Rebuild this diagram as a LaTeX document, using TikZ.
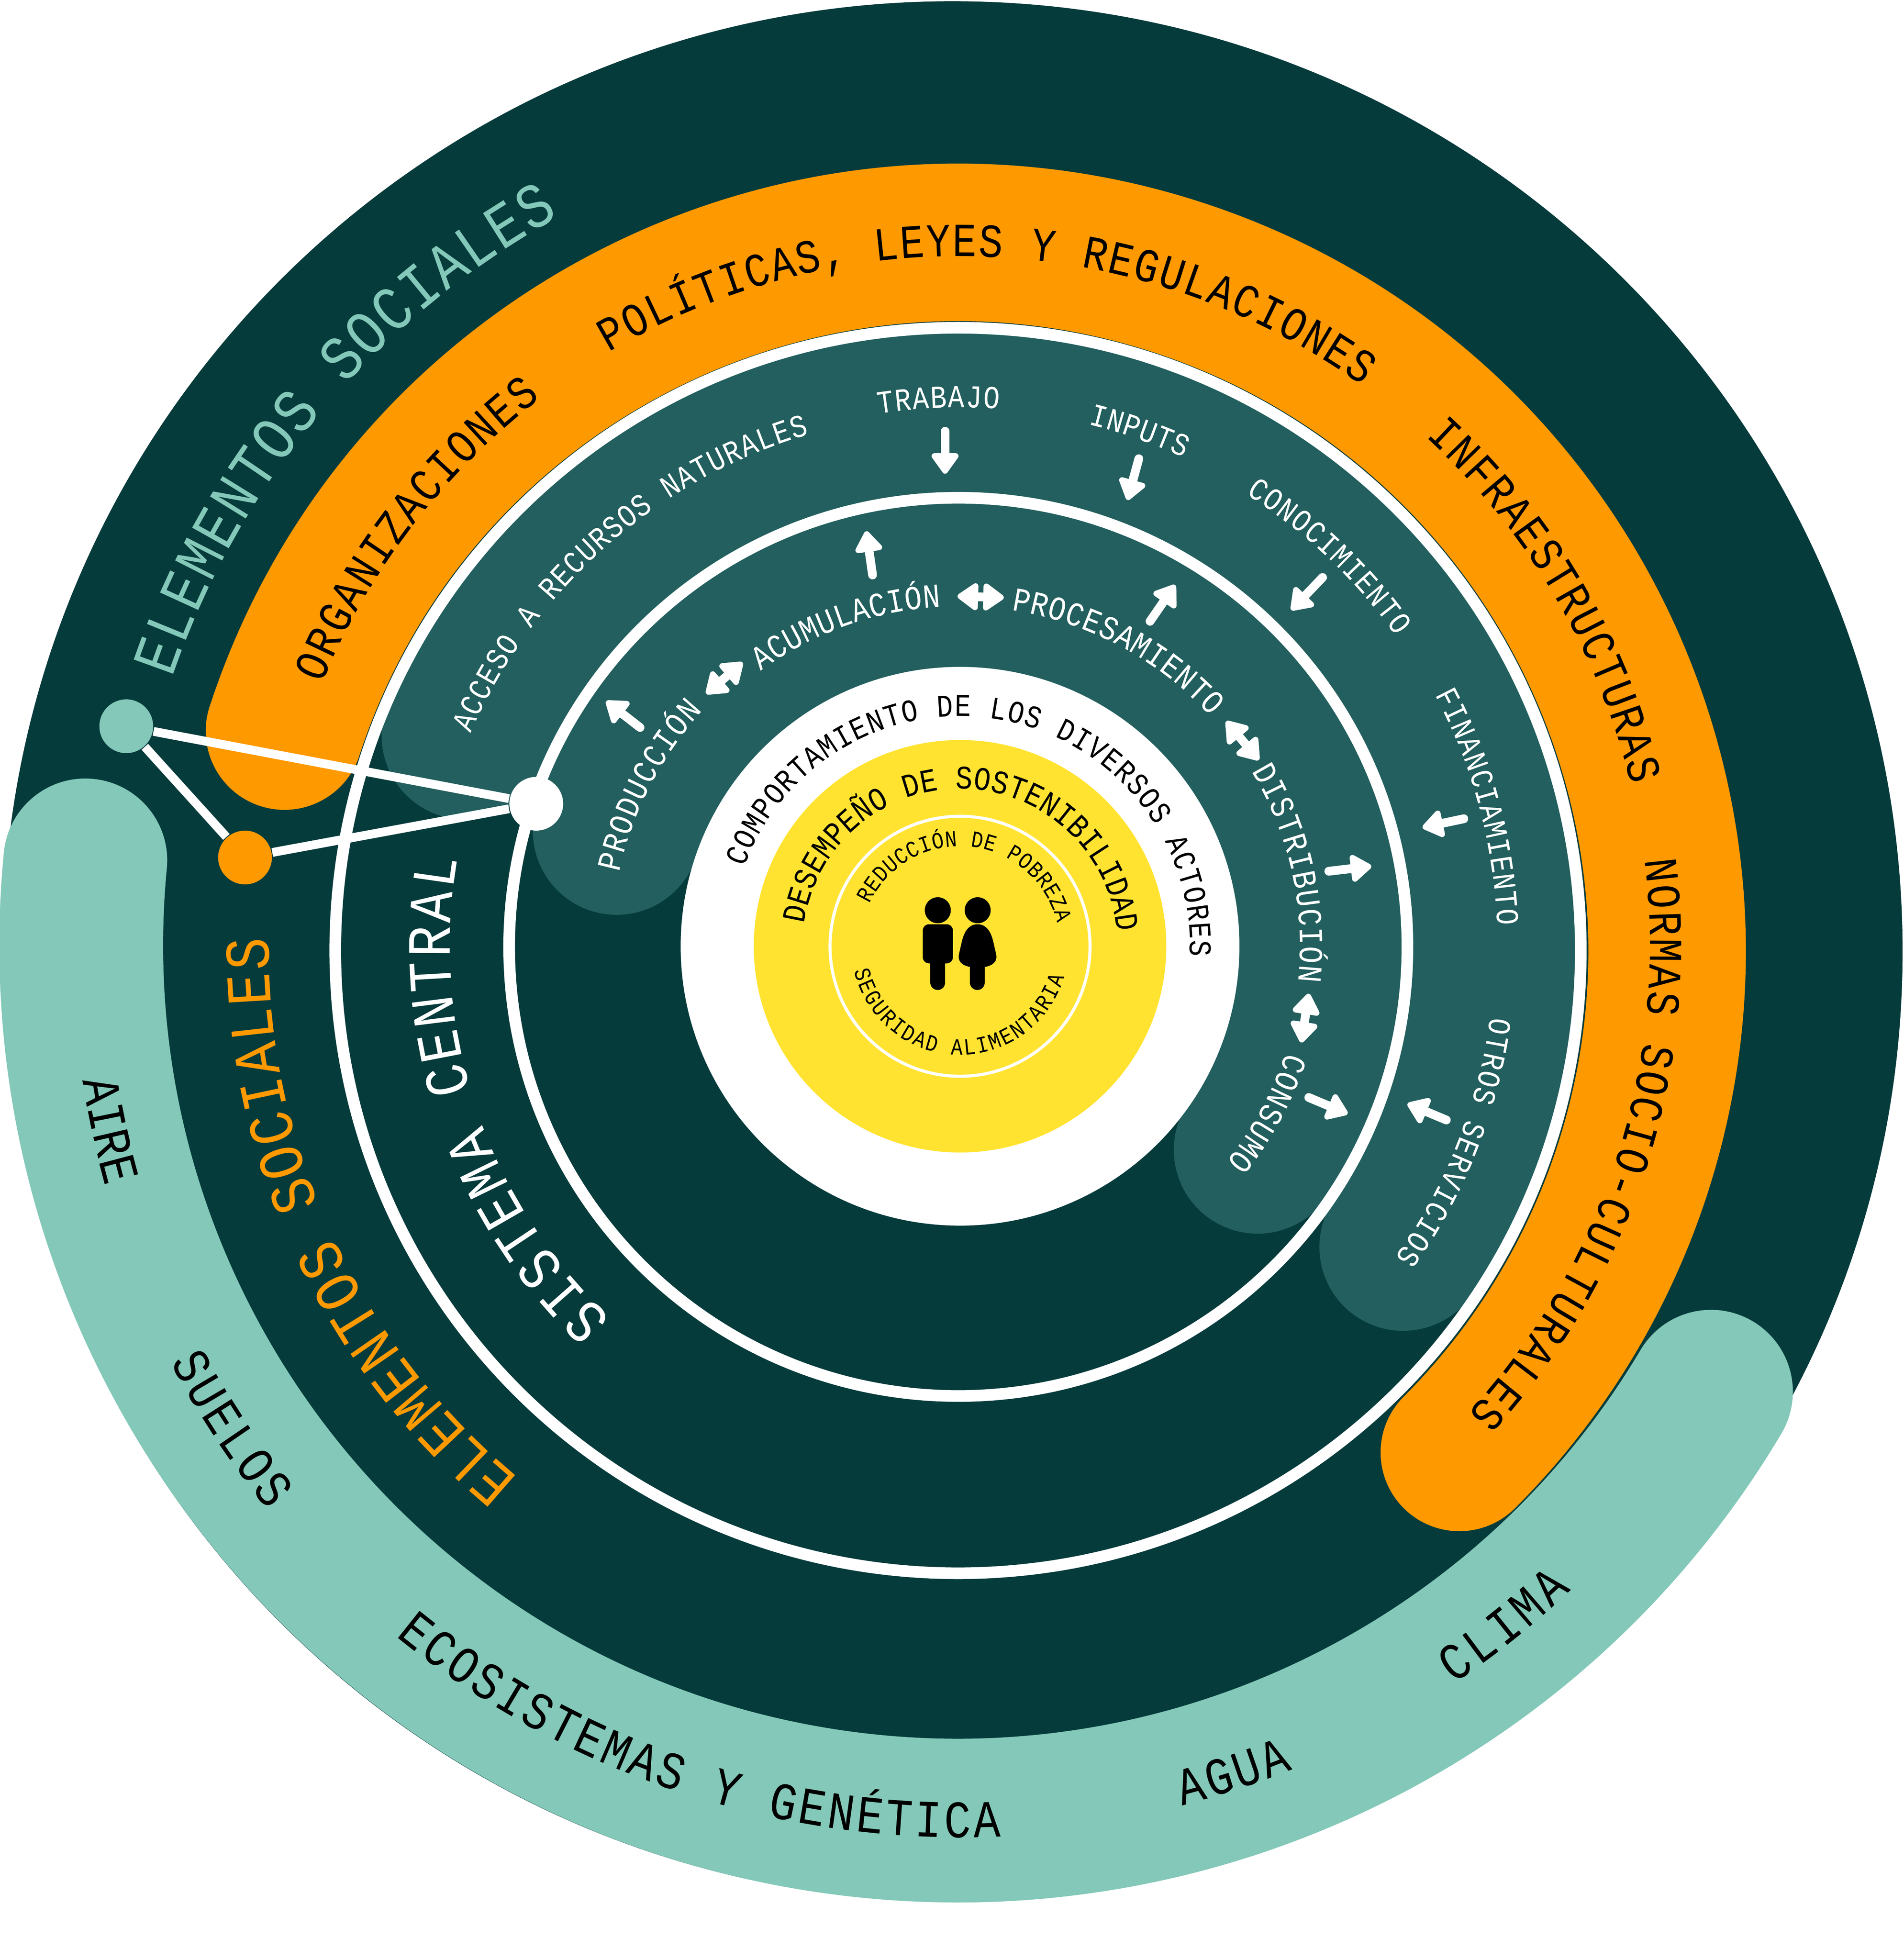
\documentclass[tikz,border=0pt]{standalone}
\usepackage{fontspec}
\usetikzlibrary{arrows.meta,decorations.text}
\newfontfamily\labelmono[FakeStretch=0.85]{Liberation Mono}
\definecolor{deepteal}{HTML}{063B3C}
\definecolor{midteal}{HTML}{225F5E}
\definecolor{paleteal}{HTML}{83C8B8}
\definecolor{amber}{HTML}{FF9900}
\definecolor{sunyellow}{HTML}{FFE330}
\newcommand{\ringband}[6]{\draw[line width=#5 cm, line cap=round, color=#6] ([shift={(#1)}]#3:#2) arc[start angle=#3, end angle=#4, radius=#2];}
\newcommand{\ringtext}[6]{\path[decorate, decoration={text along path, text align=fit to path, text={|\labelmono\fontsize{#4}{#4}\selectfont\color{#5}|#6}}] ([shift={(c)}]#2:#1) arc[start angle=#2, end angle=#3, radius=#1];}
\tikzset{
  flowarrow/.style = {draw = white, fill = white, line width = 2pt, line cap = round, -{Triangle[width = 7pt, length = 5.2pt, round]}},
  flowboth/.style = {draw = white, fill = white, line width = 2pt, {Triangle[width = 7pt, length = 5.2pt, round]}-{Triangle[width = 7pt, length = 5.2pt, round]}},
  whitering/.style = {draw = white, line width = 2.65pt},
  linkline/.style = {draw = white, line width = 2pt},
  dotnode/.style = {circle, minimum size = 0.43cm, inner sep = 0pt}
}
\begin{document}
\begin{tikzpicture}
\useasboundingbox (0,0) rectangle (15.23,-15.68);
\coordinate (c) at (7.68,-7.57);
\coordinate (cpale) at (7.66,-7.555);
\coordinate (camber) at (7.665,-7.61);
\coordinate (cmid) at (7.66,-7.59);
\coordinate (cin) at (7.67,-7.575);
% outer disc and the three wide bands
\fill[deepteal] (7.62,-7.61) circle (7.6);
\ringband{cpale}{7.01}{174.5}{329.3}{1.31}{paleteal}
\ringband{camber}{5.67}{161.9}{-45}{1.26}{amber}
\ringband{cmid}{4.29}{156.6}{-33.8}{1.34}{midteal}
\ringband{cin}{2.89}{161.3}{-34.2}{1.34}{midteal}
% rings and centre
\draw[whitering] (7.664,-7.604) circle (4.982);
\draw[whitering] (7.666,-7.575) circle (3.593);
\fill[white] (c) circle (2.235);
\fill[sunyellow] (c) circle (1.65);
\draw[white, line width = 0.7pt] (c) circle (1.04);
% dots and links
\node[dotnode, fill = paleteal] (dotsocial) at (1.01,-5.81) {};
\node[dotnode, fill = amber] (dotelement) at (1.96,-6.86) {};
\node[dotnode, fill = white] (dotcore) at (4.29,-6.43) {};
\draw[linkline] (dotsocial) -- (dotcore);
\draw[linkline] (dotelement) -- (dotcore);
\draw[linkline] (dotsocial) -- (dotelement);
% arrows
\foreach \ax/\ay/\bx/\by in {5.12/-5.82/4.85/-5.61, 6.98/-4.60/6.93/-4.25, 9.20/-4.97/9.40/-4.68, 10.63/-6.97/10.97/-6.93, 10.47/-8.78/10.78/-8.91, 11.57/-8.96/11.26/-8.83, 11.71/-6.55/11.38/-6.62, 10.58/-4.62/10.33/-4.88, 9.11/-3.67/9.02/-4.00, 7.56/-3.45/7.56/-3.79}
{
\coordinate (from) at (\ax,\ay);
\coordinate (to) at (\bx,\by);
\draw[flowarrow] (from) -- (to);
}
\foreach \ax/\ay/\bx/\by in {5.65/-5.55/5.94/-5.30, 7.66/-4.77/8.03/-4.78, 9.81/-5.77/10.07/-6.08, 10.47/-7.95/10.41/-8.34}
{
\coordinate (from) at (\ax,\ay);
\coordinate (to) at (\bx,\by);
\draw[flowboth] (from) -- (to);
}
% labels on the outer rings
\ringtext{6.66}{161.2}{118.8}{14.5}{paleteal}{ELEMENTOS SOCIALES}
\ringtext{5.53}{230.3}{179.3}{14.5}{amber}{ELEMENTOS SOCIALES}
\ringtext{4.08}{226.9}{170.1}{14}{white}{SISTEMA CENTRAL}
\ringtext{5.52}{157.6}{127.4}{10.8}{black}{ORGANIZACIONES}
\ringtext{5.52}{120.6}{54.4}{10.8}{black}{POLÍTICAS, LEYES Y REGULACIONES}
\ringtext{5.52}{47.6}{13.5}{10.8}{black}{INFRAESTRUCTURAS}
\ringtext{5.52}{7.2}{-42.6}{10.8}{black}{NORMAS SOCIO-CULTURALES}
\ringtext{7.10}{188.7}{195.7}{12}{black}{AIRE}
\ringtext{7.14}{207.8}{219.2}{12}{black}{SUELOS}
\ringtext{7.13}{230.7}{272.6}{12}{black}{ECOSISTEMAS Y GENÉTICA}
\ringtext{7.10}{284.5}{292}{12}{black}{AGUA}
\ringtext{7.10}{303.8}{313.5}{12}{black}{CLIMA}
% labels on the middle bands
\ringtext{4.27}{156.5}{106.4}{7.3}{white}{ACCESO A RECURSOS NATURALES}
\ringtext{4.31}{98.7}{85.8}{7.3}{white}{TRABAJO}
\ringtext{4.30}{76.2}{65.4}{7.3}{white}{INPUTS}
\ringtext{4.28}{57.7}{35.4}{7.3}{white}{CONOCIMIENTO}
\ringtext{4.30}{27.9}{2.2}{7.3}{white}{FINANCIAMIENTO}
\ringtext{4.28}{-7.6}{-35.6}{7.3}{white}{OTROS SERVICIOS}
\ringtext{2.79}{167.8}{137.5}{7.7}{white}{PRODUCCIÓN}
\ringtext{2.72}{125.9}{93.2}{7.7}{white}{ACUMULACIÓN}
\ringtext{2.72}{81.3}{42.5}{7.7}{white}{PROCESAMIENTO}
\ringtext{2.72}{31}{-6}{7.7}{white}{DISTRIBUCIÓN}
\ringtext{2.74}{-18}{-39}{7.7}{white}{CONSUMO}
% labels on the centre
\ringtext{1.84}{159.8}{-2.5}{7.2}{black}{COMPORTAMIENTO DE LOS DIVERSOS ACTORES}
\ringtext{1.26}{171.8}{5.2}{7.5}{black}{DESEMPEÑO DE SOSTENIBILIDAD}
\ringtext{0.80}{155}{13.5}{5.3}{black}{REDUCCIÓN DE POBREZA}
\ringtext{0.87}{193}{343.6}{5.3}{black}{SEGURIDAD ALIMENTARIA}
% the two figures
\fill[black] (7.502,-7.282) circle (0.104);
\fill[black] (7.821,-7.282) circle (0.104);
\fill[black, rounded corners = 0.05cm] (7.382,-7.394) rectangle (7.623,-7.707);
\draw[black, line width = 0.12cm, line cap = round] (7.502,-7.65) -- (7.502,-7.86);
\fill[black] (7.82,-7.394) .. controls (7.90,-7.394) and (7.93,-7.47) .. (7.945,-7.53) -- (7.968,-7.63) .. controls (7.985,-7.70) and (7.93,-7.74) .. (7.82,-7.741) .. controls (7.71,-7.74) and (7.655,-7.70) .. (7.672,-7.63) -- (7.695,-7.53) .. controls (7.71,-7.47) and (7.74,-7.394) .. (7.82,-7.394) -- cycle;
\draw[black, line width = 0.12cm, line cap = round] (7.819,-7.70) -- (7.819,-7.86);
\end{tikzpicture}
\end{document}
